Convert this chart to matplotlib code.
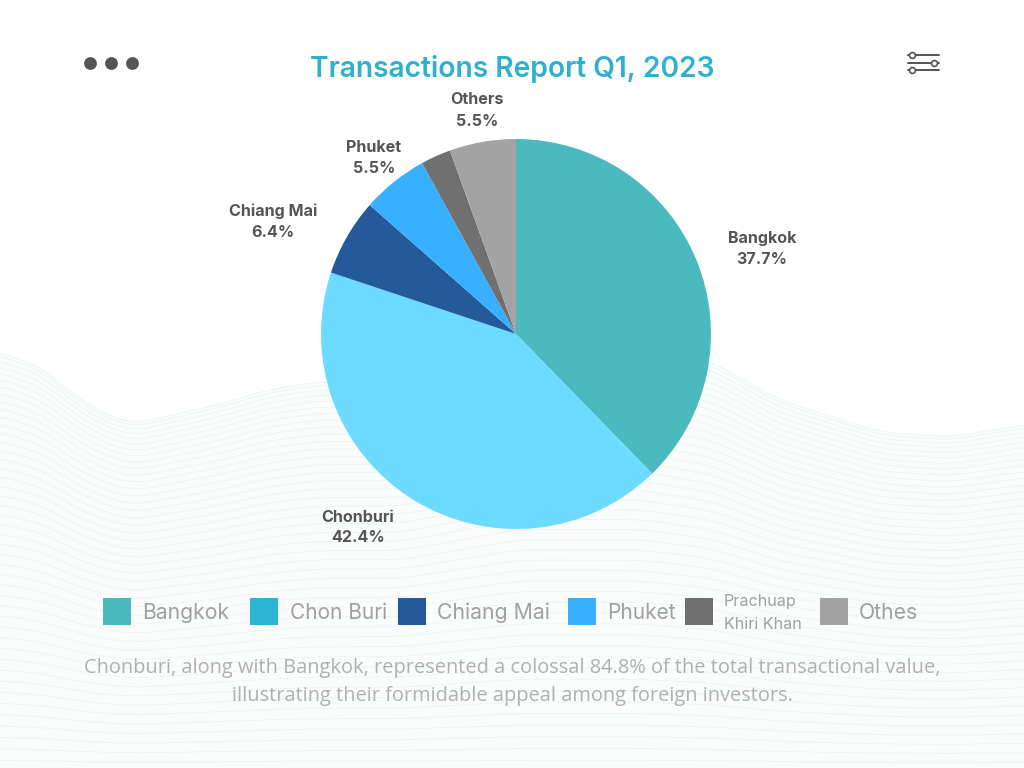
import numpy as np
import matplotlib.pyplot as plt
from matplotlib.patches import Rectangle

# slices
shares = [37.7, 42.4, 6.4, 5.5, 2.5, 5.5]
sliceColors = ['#4bbabf', '#6cdbff', '#245a9a', '#38b0ff', '#707070', '#a3a3a3']

# callouts
calloutNames = ['Bangkok', 'Chonburi', 'Chiang Mai', 'Phuket', 'Others']
calloutValues = ['37.7%', '42.4%', '6.4%', '5.5%', '5.5%']
calloutX = [762, 358, 273, 374, 477]
calloutY = [248.5, 527.5, 221.5, 158, 110.5]

# legend
legendNames = ['Bangkok', 'Chon Buri', 'Chiang Mai', 'Phuket', 'Prachuap\nKhiri Khan', 'Othes']
legendColors = ['#4bbabf', '#2bb4d6', '#245a9a', '#38b0ff', '#707070', '#a3a3a3']
legendBoxX = [103, 250, 398, 568, 685, 820]
legendTextX = [142, 290, 437, 607, 724, 859]
legendSizes = [15.2, 15.0, 15.3, 15.0, 11.6, 15.2]

# background wave, top edge
waveX = [0, 43, 67, 100, 133, 217, 267, 317, 400, 520, 640, 712, 780, 880, 950, 1024]
waveTop = [352, 368, 390, 412, 424, 405, 390, 382, 382, 345, 345, 362, 400, 432, 437, 425]

fig = plt.figure(figsize=(10.24, 7.68), dpi=100, facecolor='white')


def pixelAxes(zorder):
    a = fig.add_axes([0, 0, 1, 1], zorder=zorder)
    a.set_xlim(0, 1024)
    a.set_ylim(768, 0)
    a.axis('off')
    return a


backAx = pixelAxes(0)
ax = pixelAxes(2)

# wave lines flatten out towards the bottom edge
xs = np.arange(0, 1025, 4)
top = np.interp(xs, waveX, waveTop)
kernel = np.ones(9) / 9
top = np.convolve(np.pad(top, 4, mode='edge'), kernel, mode='valid')
backAx.fill_between(xs, top, 768, color='#fbfdfd', lw=0)
for t in np.linspace(0, 1, 46) ** 1.25:
    backAx.plot(xs, top + (772 - top) * t, color='#edf5f6', lw=0.7)

# pie sits in its own axes
pieAx = fig.add_axes([(516 - 195) / 1024, (768 - 334 - 195) / 768, 390 / 1024, 390 / 768], zorder=1)
pieAx.pie(shares, colors=sliceColors, startangle=90, counterclock=False, radius=1)
pieAx.set_xlim(-1, 1)
pieAx.set_ylim(-1, 1)

ax.text(512, 69, 'Transactions Report Q1, 2023', color='#30b0cf', fontsize=20.3,
        fontweight='semibold', family='Inter', ha='center', va='center')

for name, val, x, y in zip(calloutNames, calloutValues, calloutX, calloutY):
    ax.text(x, y, name + '\n' + val, color='#555555', fontsize=11.6, fontweight='bold',
            family='Inter', ha='center', va='center', linespacing=1.5)

for box, tx, name, col, size in zip(legendBoxX, legendTextX, legendNames, legendColors, legendSizes):
    ax.add_patch(Rectangle((box, 598), 28, 27, color=col, lw=0))
    ax.text(tx, 613, name, color='#a0a0a0', fontsize=size, family='Inter',
            ha='left', va='center', linespacing=1.6)

ax.text(512, 682, 'Chonburi, along with Bangkok, represented a colossal 84.8% of the total transactional value,\n'
        'illustrating their formidable appeal among foreign investors.',
        color='#b0b0b0', fontsize=14.37, family='Open Sans', ha='center', va='center', linespacing=1.5)

# window dots
ax.scatter([90, 111, 132], [63, 63, 63], s=85, color='#555555', lw=0)

# settings icon
for y, kx in zip([55, 63, 70], [912, 934, 912]):
    ax.plot([908, 939], [y, y], color='#555555', lw=1.4, solid_capstyle='round')
    ax.scatter([kx], [y], s=18, facecolor='white', edgecolor='#555555', lw=1.2, zorder=3)

fig.savefig('out.png', dpi=100)
